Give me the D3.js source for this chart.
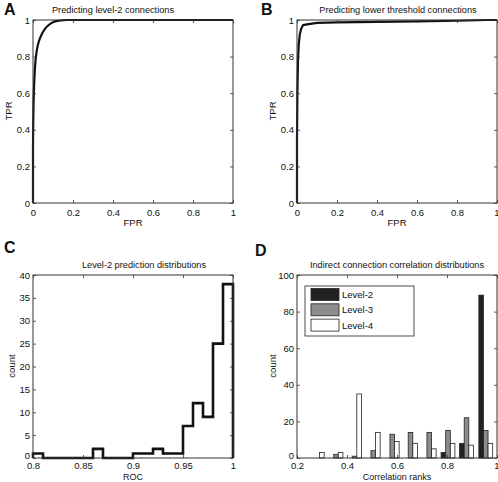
<!DOCTYPE html>
<html>
<head>
<meta charset="utf-8">
<script src="https://cdn.jsdelivr.net/npm/d3@7"></script>
<style>
  html, body { margin: 0; padding: 0; background: #fff; }
  svg { display: block; }
  text { font-family: "Liberation Sans", Arial, Helvetica, sans-serif; fill: #111; }
</style>
</head>
<body>
<svg id="chart" width="498" height="482"></svg>
<script>
// ---- Data ----
// Panel A: ROC curve, level-2 connections
const rocA_fpr = [0, 0, 0.001, 0.003, 0.007, 0.012, 0.02, 0.03, 0.045, 0.06, 0.08, 0.1, 0.13, 0.17, 0.3, 1];
const rocA_tpr = [0, 0.3, 0.42, 0.55, 0.68, 0.77, 0.84, 0.885, 0.925, 0.952, 0.974, 0.988, 0.996, 1, 1, 1];
// Panel B: ROC curve, lower threshold connections
const rocB_fpr = [0, 0, 0.002, 0.005, 0.009, 0.014, 0.02, 0.03, 0.05, 0.1, 0.2, 0.4, 0.6, 0.8, 0.95, 1];
const rocB_tpr = [0, 0.35, 0.6, 0.78, 0.87, 0.92, 0.95, 0.972, 0.976, 0.984, 0.987, 0.99, 0.993, 0.996, 1, 1];
// Panel C: histogram of ROC values (bin left edges, counts)
const rocBins   = [0.80, 0.81, 0.82, 0.83, 0.84, 0.85, 0.86, 0.87, 0.88, 0.89, 0.90, 0.91, 0.92, 0.93, 0.94, 0.95, 0.96, 0.97, 0.98, 0.99];
const rocCounts = [1, 0, 0, 0, 0, 0, 2, 0, 0, 0, 1, 1, 2, 1, 1, 7, 12, 9, 25, 38];
const rocBinEnd = 1.0;
// Panel D: grouped bars
const rankCenters = [0.281, 0.356, 0.43, 0.505, 0.581, 0.654, 0.729, 0.804, 0.878, 0.955];
const level2 = [0, 0, 0, 0, 0, 0, 0, 3, 8, 89];
const level3 = [0, 2, 1, 4, 13, 14, 14, 15, 22, 15];
const level4 = [3, 3, 35, 14, 9, 8, 5, 8, 7, 8];
const seriesNames = ["Level-2", "Level-3", "Level-4"];
const seriesColors = ["#222222", "#8c8c8c", "#ffffff"];

// Tick values
const rocTicks = [0, 0.2, 0.4, 0.6, 0.8, 1];
const cXTicks = [0.8, 0.85, 0.9, 0.95, 1];
const cYTicks = [0, 5, 10, 15, 20, 25, 30, 35, 40];
const dXTicks = [0.2, 0.4, 0.6, 0.8, 1];
const dYTicks = [0, 20, 40, 60, 80, 100];

const titles = ["Predicting level-2 connections", "Predicting lower threshold connections",
                "Level-2 prediction distributions", "Indirect connection correlation distributions"];

// ---- Drawing ----
const svg = d3.select("#chart");
const AX = "#333";
const FS = 9.5;

function frame(g, x, y, xt, yt, xpad, ypad, liftZero) {
  const [x0, x1] = x.range();
  const [y0, y1] = y.range();
  const fmt = d => String(d);
  const bx = g.append("g").attr("transform", `translate(0,${y0})`)
    .call(d3.axisBottom(x).tickValues(xt).tickFormat(fmt).tickSizeInner(-3).tickSizeOuter(0).tickPadding(xpad));
  const tx = g.append("g").attr("transform", `translate(0,${y1})`)
    .call(d3.axisTop(x).tickValues(xt).tickFormat("").tickSizeInner(-3).tickSizeOuter(0));
  const ly = g.append("g").attr("transform", `translate(${x0},0)`)
    .call(d3.axisLeft(y).tickValues(yt).tickFormat(fmt).tickSizeInner(-3).tickSizeOuter(0).tickPadding(ypad));
  const ry = g.append("g").attr("transform", `translate(${x1},0)`)
    .call(d3.axisRight(y).tickValues(yt).tickFormat("").tickSizeInner(-3).tickSizeOuter(0));
  [bx, tx, ly, ry].forEach(a => {
    a.select(".domain").remove();
    a.selectAll("line").attr("stroke", AX).attr("stroke-width", 0.8);
    a.selectAll("text").attr("font-size", FS).attr("fill", "#111")
      .style("font-family", '"Liberation Sans", Arial, sans-serif');
  });
  // keep the last bottom label inside the page when the axis reaches the edge
  if (x1 > 490) bx.selectAll(".tick text").filter((d, i, n) => i === n.length - 1).attr("text-anchor", "end").attr("dx", "2");
  if (liftZero) ly.selectAll(".tick text").filter((d, i) => i === 0).attr("transform", `translate(0,${-liftZero})`);
  g.append("rect").attr("x", x0).attr("y", y1).attr("width", x1 - x0).attr("height", y0 - y1)
    .attr("fill", "none").attr("stroke", AX).attr("stroke-width", 1);
}

function labels(g, letter, lx, ly, title, tx, ty, xl, xlx, xly, yl, ylx, yly, xfs) {
  g.append("text").attr("x", lx).attr("y", ly).attr("font-size", 16).attr("font-weight", "bold").text(letter);
  g.append("text").attr("x", tx).attr("y", ty).attr("text-anchor", "middle").attr("font-size", 9.2).text(title);
  g.append("text").attr("x", xlx).attr("y", xly).attr("text-anchor", "middle").attr("font-size", xfs || FS).text(xl);
  g.append("text").attr("transform", `translate(${ylx},${yly}) rotate(-90)`).attr("text-anchor", "middle")
    .attr("font-size", FS).text(yl);
}

// Panel A
{
  const g = svg.append("g");
  const x = d3.scaleLinear().domain([0, 1]).range([33, 233]);
  const y = d3.scaleLinear().domain([0, 1]).range([203, 20]);
  g.append("path").datum(d3.range(rocA_fpr.length))
    .attr("d", d3.line().x(i => x(rocA_fpr[i])).y(i => y(rocA_tpr[i])).curve(d3.curveMonotoneX))
    .attr("fill", "none").attr("stroke", "#111").attr("stroke-width", 2.2);
  frame(g, x, y, rocTicks, rocTicks, 6, 3, 0);
  labels(g, "A", 4, 15, titles[0], 113, 13, "FPR", 133, 226, "TPR", 12, 111);
}
// Panel B
{
  const g = svg.append("g");
  const x = d3.scaleLinear().domain([0, 1]).range([297, 497]);
  const y = d3.scaleLinear().domain([0, 1]).range([203, 20]);
  g.append("path").datum(d3.range(rocB_fpr.length))
    .attr("d", d3.line().x(i => x(rocB_fpr[i])).y(i => y(rocB_tpr[i])))
    .attr("fill", "none").attr("stroke", "#111").attr("stroke-width", 2.2).attr("stroke-linejoin", "round");
  frame(g, x, y, rocTicks, rocTicks, 6, 3, 0);
  labels(g, "B", 261, 15, titles[1], 398, 13, "FPR", 397, 226, "TPR", 276, 111);
}
// Panel C
{
  const g = svg.append("g");
  const x = d3.scaleLinear().domain([0.8, 1]).range([33, 233]);
  const y = d3.scaleLinear().domain([0, 40]).range([458, 275]);
  const pts = [[rocBins[0], 0]];
  rocBins.forEach((b, i) => {
    const e = i < rocBins.length - 1 ? rocBins[i + 1] : rocBinEnd;
    pts.push([b, rocCounts[i]], [e, rocCounts[i]]);
  });
  pts.push([rocBinEnd, 0]);
  g.append("path").datum(pts)
    .attr("d", d3.line().x(d => x(d[0])).y(d => y(d[1])))
    .attr("fill", "none").attr("stroke", "#111").attr("stroke-width", 2.6).attr("stroke-linejoin", "miter");
  frame(g, x, y, cXTicks, cYTicks, 4.5, 3, 3);
  labels(g, "C", 4, 253, titles[2], 144, 268, "ROC", 133, 480, "count", 15, 366, 9);
}
// Panel D
{
  const g = svg.append("g");
  const x = d3.scaleLinear().domain([0.2, 1]).range([297, 497]);
  const y = d3.scaleLinear().domain([0, 100]).range([458, 275]);
  const bw = 0.0184;
  const series = [level2, level3, level4];
  series.forEach((vals, s) => {
    g.append("g").selectAll("rect").data(vals).join("rect")
      .attr("x", (v, i) => x(rankCenters[i] + (s - 1) * bw - bw / 2))
      .attr("width", x(0.2 + bw) - x(0.2))
      .attr("y", v => y(v))
      .attr("height", v => y(0) - y(v))
      .attr("fill", seriesColors[s])
      .attr("stroke", v => v > 0 ? "#222" : "none")
      .attr("stroke-width", 0.8);
  });
  frame(g, x, y, dXTicks, dYTicks, 4.5, 3, 3);
  labels(g, "D", 255, 256, titles[3], 397, 268, "Correlation ranks", 397, 480, "count", 276, 366, 9);
  // legend
  const lg = g.append("g");
  lg.append("rect").attr("x", 305).attr("y", 286).attr("width", 109).attr("height", 50)
    .attr("fill", "#fff").attr("stroke", "#222").attr("stroke-width", 0.8);
  seriesNames.forEach((n, s) => {
    const cy = 294.5 + s * 15.3;
    lg.append("rect").attr("x", 311).attr("y", cy - 6).attr("width", 28).attr("height", 12)
      .attr("fill", seriesColors[s]).attr("stroke", "#222").attr("stroke-width", 0.8);
    lg.append("text").attr("x", 342).attr("y", cy + 3.5).attr("font-size", FS).text(n);
  });
}
</script>
</body>
</html>
